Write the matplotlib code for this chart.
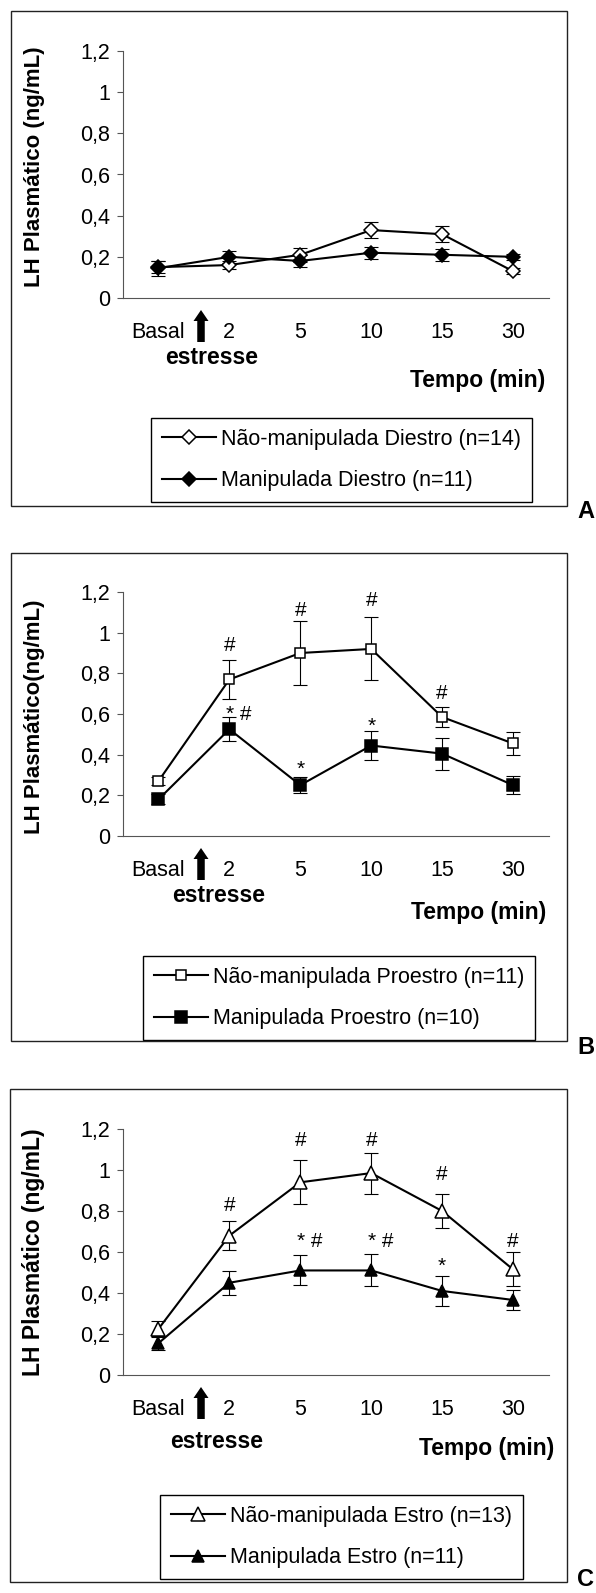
import matplotlib
matplotlib.use("Agg")
import matplotlib.pyplot as plt
from matplotlib.transforms import Affine2D, offset_copy
from matplotlib.patches import Rectangle, FancyArrow

plt.rcParams['font.family'] = ['Liberation Sans', 'DejaVu Sans']

W, H, DPI = 596, 1593, 100

# ---------------- data ----------------
categories = ["Basal", "2", "5", "10", "15", "30"]
y_ticks = [0, 0.2, 0.4, 0.6, 0.8, 1.0, 1.2]
y_tick_labels = ["0", "0,2", "0,4", "0,6", "0,8", "1", "1,2"]

# Panel A - Diestro
a_open_label = "Não-manipulada Diestro (n=14)"
a_open = [0.15, 0.16, 0.21, 0.33, 0.31, 0.13]
a_open_err = [0.03, 0.02, 0.035, 0.04, 0.04, 0.015]
a_fill_label = "Manipulada Diestro (n=11)"
a_fill = [0.145, 0.20, 0.18, 0.22, 0.21, 0.20]
a_fill_err = [0.036, 0.03, 0.03, 0.03, 0.03, 0.015]
a_annotations = []

# Panel B - Proestro
b_open_label = "Não-manipulada Proestro (n=11)"
b_open = [0.27, 0.77, 0.90, 0.92, 0.585, 0.455]
b_open_err = [0.02, 0.097, 0.157, 0.155, 0.05, 0.055]
b_fill_label = "Manipulada Proestro (n=10)"
b_fill = [0.18, 0.525, 0.25, 0.445, 0.405, 0.25]
b_fill_err = [0.025, 0.058, 0.038, 0.072, 0.078, 0.043]
b_annotations = [(1, "#", 0.912), (2, "#", 1.082), (3, "#", 1.131), (4, "#", 0.675),
                 (1, "* #", 0.57), (2, "*", 0.30), (3, "*", 0.511)]

# Panel C - Estro
c_open_label = "Não-manipulada Estro (n=13)"
c_open = [0.225, 0.68, 0.94, 0.985, 0.80, 0.515]
c_open_err = [0.04, 0.072, 0.107, 0.10, 0.082, 0.083]
c_fill_label = "Manipulada Estro (n=11)"
c_fill = [0.155, 0.45, 0.51, 0.51, 0.41, 0.366]
c_fill_err = [0.035, 0.058, 0.073, 0.078, 0.073, 0.05]
c_annotations = [(1, "#", 0.80), (2, "#", 1.116), (3, "#", 1.115), (4, "#", 0.952),
                 (5, "#", 0.625), (2, "* #", 0.625), (3, "* #", 0.625), (4, "*", 0.505)]

# ---------------- layout (pixels, origin top-left) ----------------
panels = [
    dict(letter="A", box=(10.5, 10.5, 567, 506), ax_top=51, ax_bottom=298,
         ylabel="LH Plasmático (ng/mL)", ylab_frac=0.53, ylab_size=16,
         marker="D", ms_open=6.8, ms_fill=7.2, letter_top=500,
         open=(a_open, a_open_err, a_open_label), fill=(a_fill, a_fill_err, a_fill_label),
         ann=a_annotations, estresse=(212, 357), tempo=(545, 380), legend=(151, 418)),
    dict(letter="B", box=(10.5, 553, 567, 1041), ax_top=592, ax_bottom=836,
         ylabel="LH Plasmático(ng/mL)", ylab_frac=0.49, ylab_size=16,
         marker="s", ms_open=7.9, ms_fill=8.2, letter_top=1036,
         open=(b_open, b_open_err, b_open_label), fill=(b_fill, b_fill_err, b_fill_label),
         ann=b_annotations, estresse=(219, 896), tempo=(546, 913), legend=(143, 956)),
    dict(letter="C", box=(9.5, 1089, 567, 1582), ax_top=1129, ax_bottom=1375,
         ylabel="LH Plasmático (ng/mL)", ylab_frac=0.50, ylab_size=16.5,
         marker="^", ms_open=9.6, ms_fill=9.2, letter_top=1568,
         open=(c_open, c_open_err, c_open_label), fill=(c_fill, c_fill_err, c_fill_label),
         ann=c_annotations, estresse=(217, 1441), tempo=(554, 1449), legend=(160, 1495)),
]

AX_LEFT, AX_RIGHT = 123, 548.5
AXIS_GRAY = "#555555"

fig = plt.figure(figsize=(W / DPI, H / DPI), dpi=DPI)
fig.patch.set_facecolor("white")
PX = Affine2D().scale(1.0 / W, -1.0 / H).translate(0, 1) + fig.transFigure

for p in panels:
    bx0, by0, bx1, by1 = p["box"]
    fig.add_artist(Rectangle((bx0, by0), bx1 - bx0, by1 - by0, transform=PX,
                             fill=False, edgecolor="#222222", lw=1.0))
    fig.text(577, p["letter_top"], p["letter"], transform=PX, ha="left", va="top",
             fontsize=17, fontweight="bold")

    top, bot = p["ax_top"], p["ax_bottom"]
    ax = fig.add_axes([AX_LEFT / W, 1 - bot / H, (AX_RIGHT - AX_LEFT) / W, (bot - top) / H])
    x = list(range(len(categories)))

    handles = []
    for key, face in (("open", "white"), ("fill", "black")):
        vals, errs, lab = p[key]
        ms = p["ms_open"] if key == "open" else p["ms_fill"]
        ax.errorbar(x, vals, yerr=errs, fmt="none", ecolor="black", elinewidth=0.8,
                    capsize=5.2, capthick=0.8, zorder=2)
        ln, = ax.plot(x, vals, color="black", lw=1.5, marker=p["marker"], ms=ms,
                      mfc=face, mec="black", mew=1.1, zorder=3, label=lab)
        handles.append(ln)

    for idx, txt, yv in p["ann"]:
        if txt == "* #":
            tr = offset_copy(ax.transData, fig=fig, x=-3, y=0, units="dots")
            ax.text(idx, yv, txt, transform=tr, ha="left", va="baseline", fontsize=15)
        else:
            ax.text(idx, yv, txt, ha="center", va="baseline", fontsize=15)

    ax.set_xlim(-0.5, len(categories) - 0.5)
    ax.set_ylim(0, 1.2)
    ax.set_xticks(x)
    ax.set_xticklabels(categories, fontsize=15.5)
    ax.set_yticks(y_ticks)
    ax.set_yticklabels(y_tick_labels, fontsize=15.5)
    ax.tick_params(axis="x", length=0, pad=17)
    ax.tick_params(axis="y", length=4.1, width=0.8, color=AXIS_GRAY, pad=5.0, direction="out")
    for s in ("top", "right"):
        ax.spines[s].set_visible(False)
    for s in ("left", "bottom"):
        ax.spines[s].set_color(AXIS_GRAY)
        ax.spines[s].set_linewidth(0.8)
    ax.set_facecolor("none")

    ax.set_ylabel(p["ylabel"], fontsize=p["ylab_size"], fontweight="bold")
    ax.yaxis.set_label_coords(-0.183, p["ylab_frac"])

    # stress arrow between Basal and 2
    xa = AX_LEFT + (0.6 + 0.5) / len(categories) * (AX_RIGHT - AX_LEFT)
    fig.add_artist(FancyArrow(xa, bot + 44, 0, -32, width=7.5, head_width=15,
                              head_length=11, length_includes_head=True,
                              transform=PX, color="black", lw=0))

    ex, ey = p["estresse"]
    fig.text(ex, ey, "estresse", transform=PX, ha="center", va="center",
             fontsize=16.5, fontweight="bold")
    tx, ty = p["tempo"]
    fig.text(tx, ty, "Tempo (min)", transform=PX, ha="right", va="center",
             fontsize=16.5, fontweight="bold")

    lx, ly = p["legend"]
    leg = ax.legend(handles=handles, loc="upper left", bbox_to_anchor=(lx, ly),
                    bbox_transform=PX, borderaxespad=0, fontsize=15.5, frameon=True,
                    fancybox=False, shadow=False, framealpha=1, edgecolor="black",
                    handlelength=2.5, handletextpad=0.25, borderpad=0.5,
                    labelspacing=0.95)
    leg.get_frame().set_linewidth(1.0)

fig.savefig("out.png", dpi=DPI, facecolor="white")
